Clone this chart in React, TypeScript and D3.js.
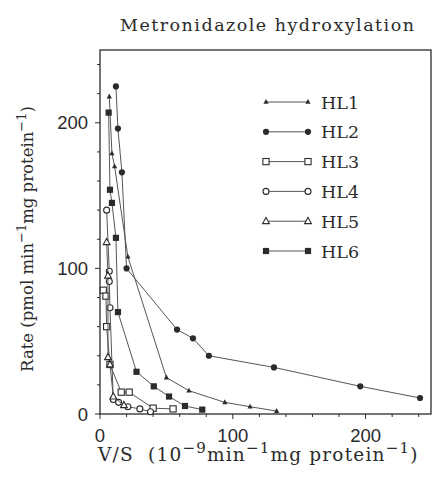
import React from "react";
import * as d3 from "d3";

const seriesNames = ["HL1", "HL2", "HL3", "HL4", "HL5", "HL6"];
const markerKinds = ["triSmall", "circleFilled", "squareOpen", "circleOpen", "triOpen", "squareFilled"];

// x: V/S, y: Rate
const hl1X = [7, 9, 11, 21, 50, 67, 94, 113, 133];
const hl1Y = [218, 179, 170, 108, 25, 16, 8, 5, 2];
const hl2X = [12, 13.5, 16.5, 20, 58, 70, 82, 131, 196, 241];
const hl2Y = [225, 196, 166, 100, 58, 52, 40, 32, 19, 11];
const hl3X = [2.5, 4.5, 5, 7.5, 16, 22, 40, 55];
const hl3Y = [85, 81, 60, 34, 15, 15, 4, 3.5];
const hl4X = [5, 7, 7, 7.5, 10, 14, 21, 30, 38];
const hl4Y = [140, 98, 91, 73, 10, 8, 5, 3.5, 1.5];
const hl5X = [5, 6, 6, 7.5, 10, 18];
const hl5Y = [118, 95, 39, 34, 12, 6];
const hl6X = [6.5, 7.5, 9, 12, 13.5, 27.5, 40.5, 52, 64, 77];
const hl6Y = [207, 154, 145, 121, 70, 29, 19, 12, 5.5, 3];

const allX = [hl1X, hl2X, hl3X, hl4X, hl5X, hl6X];
const allY = [hl1Y, hl2Y, hl3Y, hl4Y, hl5Y, hl6Y];

const xMajor = [0, 100, 200];
const yMajor = [0, 100, 200];

const W = 433;
const H = 483;
const INK = "#2b2b2b";
const LINE = "#555555";

function Marker({ kind, x, y }: { kind: string; x: number; y: number }) {
  switch (kind) {
    case "triSmall":
      return <path d={`M${x},${y - 3}L${x + 2.6},${y + 1.8}L${x - 2.6},${y + 1.8}Z`} fill={INK} />;
    case "circleFilled":
      return <circle cx={x} cy={y} r={3.1} fill={INK} />;
    case "squareOpen":
      return <rect x={x - 3.1} y={y - 3.1} width={6.2} height={6.2} fill="white" stroke={INK} strokeWidth={1.1} />;
    case "circleOpen":
      return <circle cx={x} cy={y} r={3} fill="white" stroke={INK} strokeWidth={1.1} />;
    case "triOpen":
      return <path d={`M${x},${y - 3.8}L${x + 3.4},${y + 2.4}L${x - 3.4},${y + 2.4}Z`} fill="white" stroke={INK} strokeWidth={1.1} />;
    case "squareFilled":
      return <rect x={x - 3.1} y={y - 3.1} width={6.2} height={6.2} fill={INK} />;
    default:
      return null;
  }
}

export default function App() {
  const x = d3.scaleLinear().domain([0, 250]).range([100, 432]);
  const y = d3.scaleLinear().domain([0, 250]).range([414, 50]);
  const line = d3
    .line<[number, number]>()
    .x((d) => x(d[0]))
    .y((d) => y(d[1]));

  const xMinor = d3.range(0, 251, 20);
  const yMinor = d3.range(0, 251, 20);

  const serif = "'DejaVu Serif', serif";
  const sans = "'Liberation Sans', Arial, sans-serif";

  return (
    <svg width={W} height={H} style={{ position: "absolute", left: 0, top: 0, background: "white" }}>
      <text x={267} y={31} textAnchor="middle" fontFamily={serif} fontSize={17.5} fill={INK} textLength={294} lengthAdjust="spacing">
        Metronidazole hydroxylation
      </text>

      {/* frame */}
      <rect x={x(0)} y={y(250)} width={x(250) - x(0) - 1} height={y(0) - y(250)} fill="none" stroke={INK} strokeWidth={1.3} />

      {/* ticks */}
      {xMinor.map((v) => (
        <line key={"xt" + v} x1={x(v)} x2={x(v)} y1={y(0)} y2={y(0) + (v % 100 === 0 ? 5 : 3)} stroke={INK} strokeWidth={1} />
      ))}
      {yMinor.map((v) => (
        <line key={"yt" + v} x1={x(0)} x2={x(0) - (v % 100 === 0 ? 5 : 3)} y1={y(v)} y2={y(v)} stroke={INK} strokeWidth={1} />
      ))}
      {xMajor.map((v) => (
        <text key={"xl" + v} x={x(v)} y={442} textAnchor="middle" fontFamily={sans} fontSize={18.5} fill={INK}>
          {v}
        </text>
      ))}
      {yMajor.map((v) => (
        <text key={"yl" + v} x={88} y={y(v) + 6.5} textAnchor="end" fontFamily={sans} fontSize={18.5} fill={INK}>
          {v}
        </text>
      ))}

      {/* series */}
      {allX.map((xs, i) => {
        const pts: [number, number][] = xs.map((v, j) => [v, allY[i][j]]);
        return (
          <g key={"s" + i}>
            <path d={line(pts) || ""} fill="none" stroke={LINE} strokeWidth={1} />
            {pts.map((p, j) => (
              <Marker key={j} kind={markerKinds[i]} x={x(p[0])} y={y(p[1])} />
            ))}
          </g>
        );
      })}

      {/* legend */}
      {seriesNames.map((n, i) => {
        const ly = 102 + i * 29.8;
        return (
          <g key={"lg" + n}>
            <line x1={266} x2={308} y1={ly} y2={ly} stroke={LINE} strokeWidth={1} />
            <Marker kind={markerKinds[i]} x={266} y={ly} />
            <Marker kind={markerKinds[i]} x={308} y={ly} />
            <text x={321} y={ly + 6.5} fontFamily={serif} fontSize={17.5} fill={INK}>
              {n}
            </text>
          </g>
        );
      })}

      {/* y label */}
      <text transform="translate(33,239) rotate(-90)" textAnchor="middle" fontFamily={serif} fontSize={16.5} fill={INK}>
        <tspan>Rate (pmol min</tspan>
        <tspan dy={-7} fontSize={13}>−1</tspan>
        <tspan dy={7}>mg protein</tspan>
        <tspan dy={-7} fontSize={13}>−1</tspan>
        <tspan dy={7}>)</tspan>
      </text>

      {/* x label */}
      <text x={98} y={461} fontFamily={serif} fontSize={18.5} letterSpacing={1.2} fill={INK} style={{ whiteSpace: "pre" }}>
        <tspan>{"V/S  (10"}</tspan>
        <tspan dy={-8} fontSize={15}>−9</tspan>
        <tspan dy={8}>min</tspan>
        <tspan dy={-8} fontSize={15}>−1</tspan>
        <tspan dy={8}>mg protein</tspan>
        <tspan dy={-8} fontSize={15}>−1</tspan>
        <tspan dy={8}>)</tspan>
      </text>
    </svg>
  );
}
